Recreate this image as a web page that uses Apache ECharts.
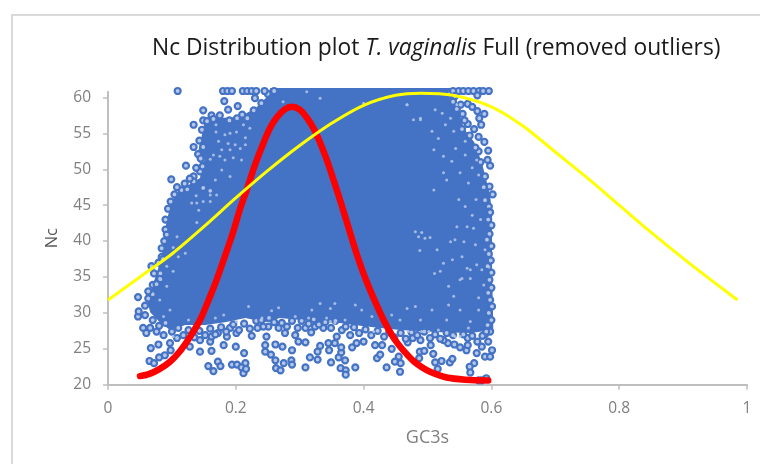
<!DOCTYPE html>
<html><head><meta charset="utf-8">
<style>html,body{margin:0;padding:0;background:#fff}#c{width:760px;height:464px}</style>
<script src="https://cdn.jsdelivr.net/npm/echarts@6/dist/echarts.min.js"></script>
</head><body><div id="c"></div>
<script>
const xTicks = [0, 0.2, 0.4, 0.6, 0.8, 1];
const yTicks = [20, 25, 30, 35, 40, 45, 50, 55, 60];

// Outline of the solid part of the GC3s / Nc cloud
const cloudOutline = [[.152,57],[.207,57.3],[.232,58.6],[.249,60.1],[.254,61.3],[.536,61.3],[.54,59.7],[.551,57.9],[.553,56.6],[.561,55.2],[.573,53.8],[.579,52.4],[.586,50.6],[.592,48.5],[.598,46.4],[.601,43.6],[.601,36],[.603,27.6],[.567,27.2],[.52,27.3],[.457,27.6],[.426,27.9],[.395,28.2],[.363,28.6],[.332,28.7],[.301,29],[.269,29.3],[.246,28.7],[.215,29.3],[.183,28.7],[.152,28.3],[.121,28.3],[.097,27.6],[.081,28.7],[.066,30.1],[.061,31.8],[.07,33.9],[.078,36],[.086,38.8],[.089,41.5],[.094,43.6],[.1,45.7],[.113,47.1],[.144,48.8],[.147,50.6],[.141,52.4],[.147,54.8]];

// Individually visible points around the edge of the cloud
const edgePoints = [[.047,29.5],[.058,29.7],[.048,30.2],[.055,27.9],[.06,27.2],[.067,25.1],[.079,25.6],[.065,23.3],[.072,23],[.08,23.8],[.089,24.1],[.098,24.8],[.097,25.8],[.144,24.6],[.162,24.7],[.157,22.6],[.172,23.2],[.165,21.9],[.176,22.6],[.194,22.8],[.202,22.8],[.215,23],[.209,22.4],[.212,21.6],[.216,22.2],[.2,25.3],[.213,24.4],[.181,25.5],[.225,26.8],[.16,26],[.128,25.3],[.066,27.9],[.076,27.4],[.087,26.9],[.108,26.5],[.144,26.2],[.162,26.7],[.172,27.2],[.191,27.9],[.201,27.2],[.186,26.7],
[.262,25.6],[.273,25.3],[.288,24.8],[.309,25.9],[.246,24.6],[.246,25.5],[.248,26.7],[.251,28.1],[.243,28.1],[.234,27.9],[.255,24.2],[.262,23.4],[.263,22.3],[.27,22],[.275,23],[.287,23.4],[.288,22.8],[.309,22.4],[.316,23.8],[.328,23.5],[.328,24.6],[.332,25.4],[.346,24.8],[.349,23.1],[.361,23.8],[.371,23.4],[.365,24.5],[.365,25.2],[.364,22.3],[.372,22],[.372,21.4],[.387,22.4],[.382,25.2],[.345,25.8],[.355,25.8],[.298,26],[.293,26.9],[.277,27.2],[.318,27.3],[.389,25.8],[.4,26],[.418,25.5],[.421,23.7],[.358,26.7],[.366,27.6],[.379,26.9],[.337,27.9],[.324,28.1],[.267,27.9],[.309,27.9],
[.436,22.4],[.444,25],[.449,23.2],[.457,21.8],[.458,23],[.455,23.9],[.487,23.7],[.488,24.6],[.495,24.7],[.505,25.5],[.509,24.3],[.512,23.1],[.522,23.3],[.516,22.2],[.535,23.1],[.539,23.6],[.573,23],[.566,22.5],[.567,21.7],[.58,20.6],[.592,20.9],[.585,20.6],[.577,24.4],[.59,23.9],[.598,23.9],[.585,25.3],[.595,26],[.601,24.8],[.561,24.8],[.563,25.5],[.542,25.6],[.532,25.8],[.469,25.9],[.429,25.5],[.426,24.2],[.551,25.2],[.525,26.2],[.489,26.2],[.504,26.5],[.477,26.5],[.563,26.5],
[.109,60.9],[.18,60.9],[.187,60.9],[.194,60.9],[.211,60.9],[.218,60.9],[.225,60.9],[.232,60.9],[.182,59.5],[.23,59.9],[.203,58.8],[.149,58.2],[.188,58.3],[.134,56.2],[.162,57.5],[.175,57.5],[.149,56.8],[.202,57.1],[.218,57.1],[.134,53.1],[.149,53.1],[.141,52.1],[.122,50.5],[.099,48.6],[.134,49],[.115,47.1],[.124,47.2],[.144,49.7],[.149,47.4],[.134,48.3],[.16,47],[.148,51.3],[.148,50.4],
[.068,36.5],[.084,37.8],[.09,41.6],[.092,40.9],[.047,32.2],[.063,32],[.07,33.9],[.07,32.6],[.082,35.5],[.082,34.7],
[.549,60.9],[.556,60.9],[.564,60.9],[.572,60.9],[.581,60.9],[.587,60.9],[.596,60.9],[.578,60.3],[.563,59.1],[.57,58.7],[.578,58.1],[.589,57.7],[.581,57.1],[.584,56.2],[.563,56.3],[.573,55.6],[.554,55.6],[.58,54.5],[.589,53.8],[.595,52.6],[.598,50.5],[.594,51.3],[.58,52.5],[.597,47.6],[.59,49],[.54,59.4],[.546,58.4],[.555,57.7],[.596,44.8],[.597,44.1],[.59,45.7],
[.598,44],[.595,43],[.6,42.2],[.597,41],[.593,40.2],[.6,39.3],[.596,38.2],[.599,37.3],[.594,36.5],[.6,35.6],[.597,34.6],[.6,33.5],[.595,32.8],[.598,31.8],[.601,30.9],[.596,30],[.6,29],[.594,28.3],[.598,27.4],[.59,27],[.602,46.5],
[.07,29],[.08,28.2],[.09,28.6],[.1,27.4],[.11,27.9],[.118,26.9],[.126,27.6],[.135,26.6],[.143,27.5],[.152,26.9],[.16,27.8],[.168,27],[.177,28],[.185,27.4],[.196,28.4],[.205,27.6],[.213,28.5],[.222,27.8],[.232,28.9],[.24,29],[.252,29.3],[.26,28.7],[.272,28.6],[.28,28.1],[.288,28.9],[.297,27.9],[.303,28.9],[.314,28.5],[.322,29.1],[.33,28.4],[.34,28.7],[.349,27.9],[.356,28.9],[.372,28.1],[.385,28],[.393,27.2],[.403,27.7],[.412,26.9],[.422,27.5],[.432,26.7],[.44,27.3],[.448,26.6],[.458,27.2],[.466,26.4],[.475,27.3],[.484,26.9],[.495,27.4],[.512,27],[.52,26.4],[.53,27.2],[.54,26.9],[.556,27],[.57,26.8],[.578,26],[.586,26.8],[.592,27.4],
[.058,31],[.063,33],[.072,35.5],[.076,34],[.079,37],[.084,39],[.088,40],[.086,37.5],[.09,43],[.094,44.5],[.098,45.5],[.104,46.5],[.108,47.5],[.12,48],[.128,48.7],[.138,50.2],[.145,51.5],[.143,54],[.147,55.5],[.155,56.7],[.165,57],[.19,56.8],[.21,57.6],[.228,58.2],[.24,59.2],[.25,60.5],[.26,60.9],[.245,60.9],[.535,60.5],[.54,60.9],[.543,60.2],[.552,59],[.558,56.8],[.566,54.7],[.575,53],[.583,51],[.588,47.5]];

// Pale gaps between overlapping points inside the cloud
const cloudGaps = [[.491,41.2],[.504,40.5],[.486,40.6],[.496,40.4],[.515,38.8],[.511,35.5],[.52,35.8],[.539,37.4],[.554,37.8],[.525,36.9],[.572,41.8],[.562,36.2],[.551,34.6],[.533,33.7],[.541,32.3],[.588,33.9],[.57,43.6],[.559,44.8],[.549,45.8],[.576,45.8],[.557,39.9],[.481,41.3],[.488,38.7],[.567,36],[.577,36.7],[.583,43],[.543,40.2],[.546,42],[.59,38.8],[.596,36.4],[.536,39.9],[.575,39.5],[.562,42],[.585,36],[.554,34.8],[.567,34.8],
[.489,57.1],[.512,58.3],[.523,57.8],[.507,55.3],[.517,54.3],[.528,56.2],[.536,57.1],[.541,55.3],[.544,52.9],[.51,52.7],[.525,51.8],[.538,51.1],[.559,52],[.577,51.3],[.57,50.2],[.551,49.5],[.525,49.5],[.53,48.5],[.564,48.1],[.58,49.2],[.51,47.1],[.468,59],[.478,56.9],[.546,59],[.559,53.9],
[.468,30.6],[.489,29],[.507,30.4],[.481,30.9],[.444,29.7],[.457,29],[.517,27.6],[.551,26.7],[.543,26.7],[.491,27.4],[.502,27.4],[.53,29],[.564,27.9],[.58,30.4],[.551,30.4],[.533,31.1],[.58,32.1],[.567,28.8],[.47,27.4],
[.355,31.3],[.256,30.3],[.267,30.7],[.348,30.6],[.387,31.1],[.397,30.4],[.319,30.4],[.332,31.3],[.371,29],[.342,29.3],[.348,28.8],[.355,28.6],[.413,29.5],[.293,29.5],[.314,29.3],[.241,29.3],[.416,27.4],
[.081,31.8],[.097,30.4],[.126,29],[.181,29.7],[.201,28.8],[.22,30.9],[.168,29.3],[.087,29.5],[.102,26.7],
[.169,56.2],[.169,55.2],[.183,54.8],[.191,55],[.201,55.2],[.215,54.4],[.173,53.9],[.188,53.6],[.199,53.4],[.215,53.4],[.165,52],[.16,51.4],[.178,52.7],[.191,52.7],[.207,52.9],[.175,51.8],[.196,51.6],[.209,51.3],[.183,51.3],[.168,48.5],[.222,55.7],[.212,56.2],[.178,49.9],[.191,49],
[.131,45.3],[.139,45.3],[.149,45.5],[.16,45.5],[.138,46.3],[.16,46.4],[.17,46.4],[.142,44.3],[.139,42.6],[.108,40.6],[.102,39.1],[.121,38.3],[.11,37.8],[.092,36.5],[.102,35.8],[.081,34.8],[.092,33.7],
[.332,59.9],[.4,59.2],[.311,60.8],[.274,59.4],[.468,59],[.489,56.9]];

const redCurve = [[.05,21.2],[.065,21.5],[.081,22.2],[.097,23.2],[.113,24.7],[.128,26.6],[.144,29],[.157,31.7],[.17,34.6],[.183,37.9],[.196,41.3],[.206,44.3],[.217,47.1],[.23,50.6],[.243,53.6],[.254,55.8],[.264,57.2],[.276,58.3],[.2875,58.7],[.3,58.3],[.311,57.2],[.321,55.8],[.332,53.7],[.342,51.4],[.353,48.5],[.365,45.2],[.376,42],[.39,38],[.405,34.3],[.426,30],[.439,27.7],[.452,25.9],[.465,24.5],[.478,23.3],[.49,22.5],[.504,21.8],[.53,21],[.56,20.7],[.595,20.6]];
const yellowCurve = [[0,31.8],[.05,35],[.1,38.2],[.15,42],[.2,46],[.25,49.8],[.3,53.3],[.35,56.4],[.4,58.9],[.45,60.3],[.49,60.6],[.54,60.3],[.6,58.7],[.65,56],[.7,52.4],[.75,48.8],[.8,45],[.85,41.2],[.9,37.6],[.945,34.5],[.985,31.8]];

const chart = echarts.init(document.getElementById('c'), null, {renderer:'canvas'});
const blue = '#4472C4';
chart.setOption({
  animation:false,
  backgroundColor:'#fff',
  title:{left:147,top:32,text:'Nc Distribution plot {i|T. vaginalis} Full (removed outliers)',
    textStyle:{color:'#1a1a1a',fontFamily:'Open Sans',fontSize:22.8,fontWeight:'normal',
      rich:{i:{fontStyle:'italic',fontFamily:'Open Sans',fontSize:22.8,color:'#1a1a1a'}}}},
  graphic:[{type:'rect',silent:true,shape:{x:12,y:15,width:800,height:500},style:{fill:'none',stroke:'#D9D9D9',lineWidth:2}}],
  grid:{left:108,right:13,top:91.7,bottom:79.3},
  xAxis:{type:'value',min:0,max:1,interval:.2,splitLine:{show:false},
    name:'GC3s',nameLocation:'middle',nameGap:44,nameTextStyle:{color:'#7f7f7f',fontSize:18,fontFamily:'Open Sans'},
    axisLine:{show:true,onZero:false,lineStyle:{color:'#BFBFBF',width:2}},
    axisTick:{show:true,length:5,lineStyle:{color:'#BFBFBF',width:1.5}},
    axisLabel:{color:'#7f7f7f',fontSize:15.5,margin:16,fontFamily:'Open Sans',formatter:v=>String(v),customValues:xTicks}},
  yAxis:{type:'value',min:20,max:60.8,splitLine:{show:false},
    name:'Nc',nameLocation:'middle',nameGap:47,nameTextStyle:{color:'#595959',fontSize:16.5,fontFamily:'Open Sans'},
    axisLine:{show:true,onZero:false,lineStyle:{color:'#BFBFBF',width:2}},
    axisTick:{show:true,length:5,lineStyle:{color:'#BFBFBF',width:1.5},customValues:yTicks},
    axisLabel:{color:'#7f7f7f',fontSize:15.5,margin:17,fontFamily:'Open Sans',customValues:yTicks}},
  series:[
    {type:'custom',silent:true,clip:false,z:2,coordinateSystem:'cartesian2d',
     data:[[0,0]],encode:{x:0,y:1},
     renderItem:(p,api)=>({type:'polygon',shape:{points:cloudOutline.map(c=>api.coord(c))},style:{fill:blue}})},
    {type:'scatter',silent:true,clip:false,z:4,data:edgePoints,symbolSize:6,itemStyle:{color:'#B4C7E9',borderColor:blue,borderWidth:2.2,opacity:1}},
    {type:'scatter',silent:true,clip:false,z:4.5,data:cloudGaps,symbolSize:3,itemStyle:{color:'#AFC3E8',opacity:.9}},
    {type:'line',silent:true,clip:false,z:5,data:redCurve,smooth:.3,showSymbol:false,lineStyle:{color:'#FF0000',width:6.5,cap:'round'}},
    {type:'line',silent:true,clip:false,z:6,data:yellowCurve,smooth:.3,showSymbol:false,lineStyle:{color:'#FFFF00',width:3}}
  ]
});
</script></body></html>
